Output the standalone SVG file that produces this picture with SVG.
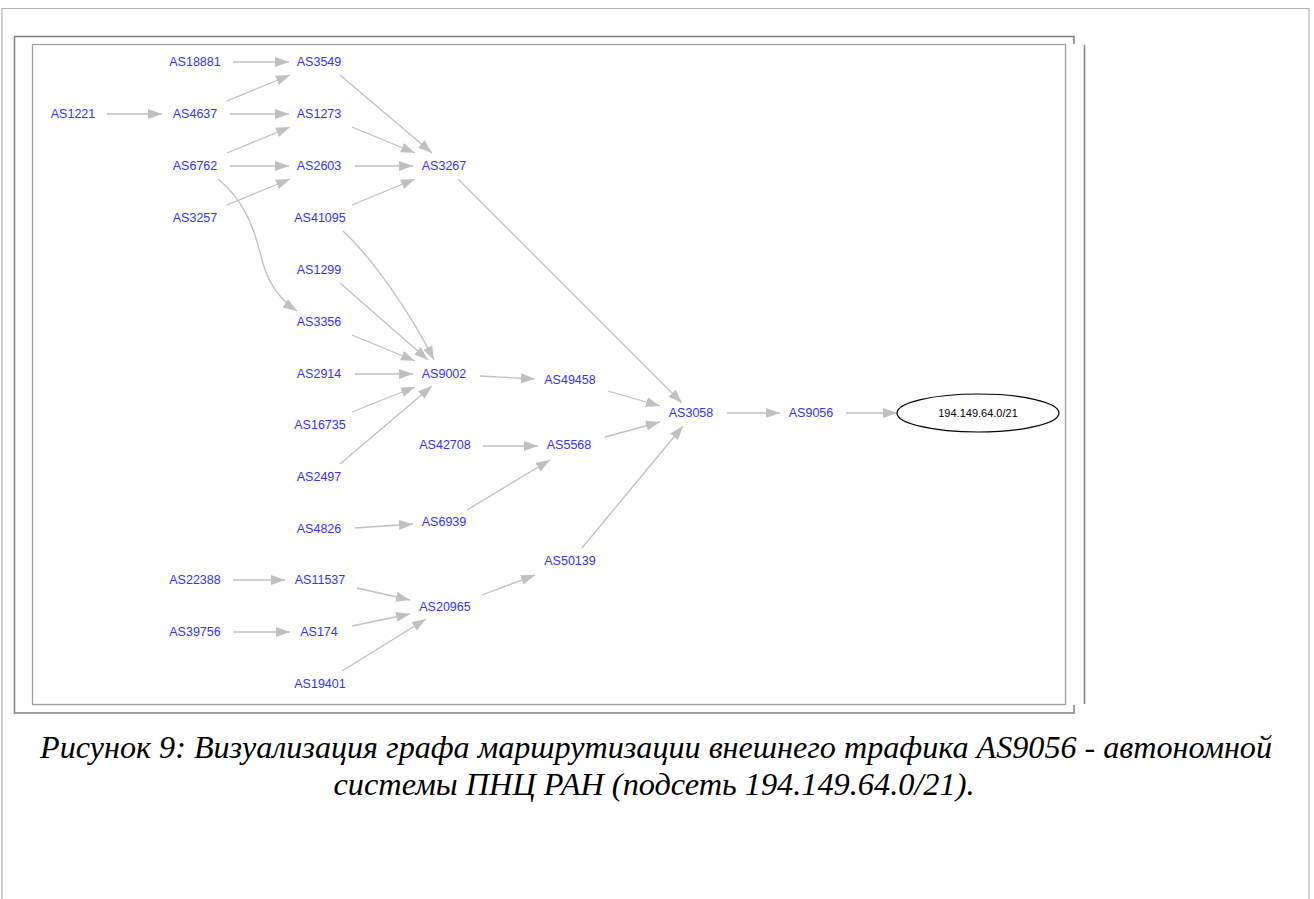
<svg xmlns="http://www.w3.org/2000/svg" width="1314" height="899" viewBox="0 0 1314 899">
  <style>
    .lbl { font-family: "Liberation Sans", Arial, sans-serif; font-size: 12.5px; fill: #3333ff; text-anchor: middle; dominant-baseline: central; }
    .net { font-family: "Liberation Sans", Arial, sans-serif; font-size: 11px; fill: #000; text-anchor: middle; dominant-baseline: central; }
    .edge { fill: none; stroke: #c0c0c0; stroke-width: 1.3; marker-end: url(#arr); }
    .cap { font-family: "Liberation Serif", "Times New Roman", serif; font-style: italic; font-size: 32px; fill: #000; text-anchor: middle; }
  </style>
  <defs>
    <marker id="arr" markerUnits="userSpaceOnUse" markerWidth="15" markerHeight="11" refX="14" refY="5" orient="auto">
      <path d="M0,0 L14,5 L0,10 z" fill="#c0c0c0"/>
    </marker>
  </defs>
  <rect width="1314" height="899" fill="#fff"/>
  <!-- page frame -->
  <path d="M2,899 V8.5 H1309 V899" fill="none" stroke="#b0b0b0" stroke-width="1.2"/>
  <!-- figure frames -->
  <path d="M1074,44 V36.5 H14.5 V713 H1074 V705" fill="none" stroke="#808080" stroke-width="1.5"/>
  <line x1="1084.5" y1="45" x2="1084.5" y2="704" stroke="#808080" stroke-width="1.5"/>
  <rect x="32.5" y="44.5" width="1033" height="660" fill="none" stroke="#a0a0a0" stroke-width="1.3"/>

  <g id="connectors">
    <line class="edge" x1="233" y1="62" x2="289" y2="62"/>
    <line class="edge" x1="227" y1="101" x2="290" y2="75"/>
    <line class="edge" x1="107" y1="114" x2="162" y2="114"/>
    <line class="edge" x1="230" y1="114" x2="289" y2="114"/>
    <line class="edge" x1="227" y1="153" x2="290" y2="127"/>
    <line class="edge" x1="230" y1="166" x2="289" y2="166"/>
    <line class="edge" x1="227" y1="205" x2="290" y2="179"/>
    <path class="edge" d="M218,179 C245,200 255,232 261,256 C267,282 280,300 297,311"/>
    <line class="edge" x1="340" y1="75" x2="432" y2="153"/>
    <line class="edge" x1="352" y1="127" x2="415" y2="153"/>
    <line class="edge" x1="355" y1="166" x2="413" y2="166"/>
    <line class="edge" x1="352" y1="205" x2="415" y2="179"/>
    <line class="edge" x1="458" y1="179" x2="682" y2="403"/>
    <path class="edge" d="M343,231 C372,258 410,312 434,360"/>
    <line class="edge" x1="340" y1="283" x2="428" y2="360"/>
    <line class="edge" x1="352" y1="335" x2="415" y2="361"/>
    <line class="edge" x1="355" y1="374" x2="413" y2="374"/>
    <line class="edge" x1="352" y1="412" x2="415" y2="387"/>
    <line class="edge" x1="340" y1="464" x2="432" y2="386"/>
    <line class="edge" x1="480" y1="376" x2="535" y2="379"/>
    <line class="edge" x1="608" y1="391" x2="660" y2="406"/>
    <line class="edge" x1="483" y1="446" x2="538" y2="446"/>
    <line class="edge" x1="605" y1="437" x2="660" y2="422"/>
    <line class="edge" x1="467" y1="510" x2="550" y2="460"/>
    <line class="edge" x1="355" y1="528" x2="413" y2="524"/>
    <line class="edge" x1="582" y1="548" x2="683" y2="426"/>
    <line class="edge" x1="727" y1="413" x2="780" y2="413"/>
    <line class="edge" x1="846" y1="413" x2="897" y2="413"/>
    <line class="edge" x1="233" y1="580" x2="285" y2="580"/>
    <line class="edge" x1="357" y1="588" x2="410" y2="600"/>
    <line class="edge" x1="233" y1="632" x2="290" y2="632"/>
    <line class="edge" x1="352" y1="626" x2="410" y2="614"/>
    <line class="edge" x1="342" y1="671" x2="426" y2="619"/>
    <line class="edge" x1="482" y1="595" x2="535" y2="575"/>
  </g>

  <g id="n-AS18881"><text class="lbl" x="195" y="62">AS18881</text></g>
  <g id="n-AS3549"><text class="lbl" x="319" y="62">AS3549</text></g>
  <g id="n-AS1221"><text class="lbl" x="73" y="114">AS1221</text></g>
  <g id="n-AS4637"><text class="lbl" x="195" y="114">AS4637</text></g>
  <g id="n-AS1273"><text class="lbl" x="319" y="114">AS1273</text></g>
  <g id="n-AS6762"><text class="lbl" x="195" y="166">AS6762</text></g>
  <g id="n-AS2603"><text class="lbl" x="319" y="166">AS2603</text></g>
  <g id="n-AS3267"><text class="lbl" x="444" y="166">AS3267</text></g>
  <g id="n-AS3257"><text class="lbl" x="195" y="218">AS3257</text></g>
  <g id="n-AS41095"><text class="lbl" x="320" y="218">AS41095</text></g>
  <g id="n-AS1299"><text class="lbl" x="319" y="270">AS1299</text></g>
  <g id="n-AS3356"><text class="lbl" x="319" y="322">AS3356</text></g>
  <g id="n-AS2914"><text class="lbl" x="319" y="374">AS2914</text></g>
  <g id="n-AS9002"><text class="lbl" x="444" y="374">AS9002</text></g>
  <g id="n-AS16735"><text class="lbl" x="320" y="425">AS16735</text></g>
  <g id="n-AS2497"><text class="lbl" x="319" y="477">AS2497</text></g>
  <g id="n-AS49458"><text class="lbl" x="570" y="380">AS49458</text></g>
  <g id="n-AS42708"><text class="lbl" x="445" y="445">AS42708</text></g>
  <g id="n-AS5568"><text class="lbl" x="569" y="445">AS5568</text></g>
  <g id="n-AS3058"><text class="lbl" x="691" y="413">AS3058</text></g>
  <g id="n-AS9056"><text class="lbl" x="811" y="413">AS9056</text></g>
  <g id="n-prefix">
    <ellipse cx="978" cy="413" rx="81" ry="19" fill="none" stroke="#000" stroke-width="1.2"/>
    <text class="net" x="978" y="413">194.149.64.0/21</text>
  </g>
  <g id="n-AS4826"><text class="lbl" x="319" y="529">AS4826</text></g>
  <g id="n-AS6939"><text class="lbl" x="444" y="522">AS6939</text></g>
  <g id="n-AS50139"><text class="lbl" x="570" y="561">AS50139</text></g>
  <g id="n-AS22388"><text class="lbl" x="195" y="580">AS22388</text></g>
  <g id="n-AS11537"><text class="lbl" x="320" y="580">AS11537</text></g>
  <g id="n-AS20965"><text class="lbl" x="445" y="607">AS20965</text></g>
  <g id="n-AS39756"><text class="lbl" x="195" y="632">AS39756</text></g>
  <g id="n-AS174"><text class="lbl" x="319" y="632">AS174</text></g>
  <g id="n-AS19401"><text class="lbl" x="320" y="684">AS19401</text></g>

  <g id="caption">
    <text class="cap" x="656" y="758" textLength="1232" lengthAdjust="spacingAndGlyphs">Рисунок 9: Визуализация графа маршрутизации внешнего трафика AS9056 - автономной</text>
    <text class="cap" x="654" y="795" textLength="641" lengthAdjust="spacingAndGlyphs">системы ПНЦ РАН (подсеть 194.149.64.0/21).</text>
  </g>
</svg>
